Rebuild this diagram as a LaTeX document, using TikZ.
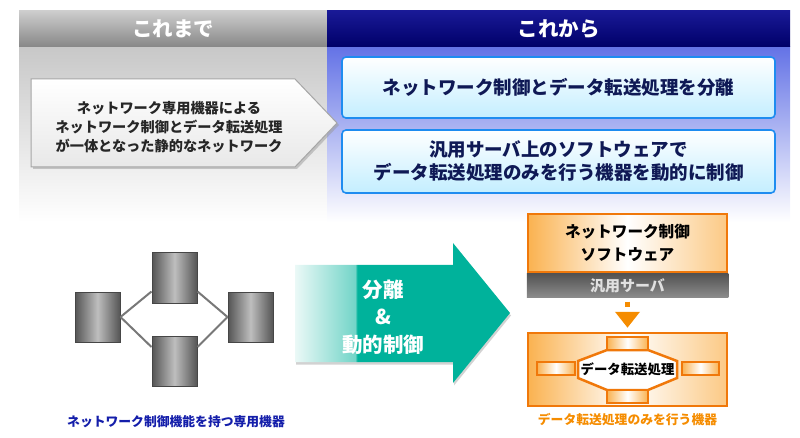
\documentclass[tikz,border=0pt]{standalone}
\usepackage{fontspec}
\setmainfont{Noto Sans CJK JP}
\usetikzlibrary{shadows,arrows.meta,positioning}

\definecolor{headgraytop}{RGB}{205,205,205}
\definecolor{headgraybot}{RGB}{135,135,135}
\definecolor{headbluetop}{RGB}{25,25,150}
\definecolor{headbluebot}{RGB}{0,0,105}
\definecolor{panelblue}{RGB}{100,115,230}
\definecolor{panelgray}{RGB}{200,200,200}
\definecolor{boxblue}{RGB}{30,140,240}
\definecolor{boxcyan}{RGB}{195,238,255}
\definecolor{boxtext}{RGB}{15,25,85}
\definecolor{unitdark}{RGB}{85,85,85}
\definecolor{unitlight}{RGB}{190,190,190}
\definecolor{unitedge}{RGB}{70,70,70}
\definecolor{linkgray}{RGB}{120,120,120}
\definecolor{arrowteal}{RGB}{0,178,155}
\definecolor{oline}{RGB}{240,120,10}
\definecolor{ofill}{RGB}{250,178,80}
\definecolor{labelblue}{RGB}{20,30,170}
\definecolor{labelorange}{RGB}{245,140,0}

\pgfdeclarehorizontalshading{arrowfade}{100bp}{color(0bp)=(white); color(25bp)=(white!92!arrowteal); color(39bp)=(arrowteal!55); color(39.5bp)=(arrowteal); color(100bp)=(arrowteal)}

\begin{document}
\begin{tikzpicture}
[
	x=1pt, y=-1pt,
	header/.style={minimum height=36pt, inner sep=0pt, text=white, font=\bfseries\fontsize{20.5}{24}\selectfont},
	infobox/.style={draw=boxblue, line width=1.6pt, rounded corners=4pt, top color=white, bottom color=boxcyan, minimum width=433pt, align=center, text=boxtext, font=\bfseries\fontsize{18.5}{23}\selectfont},
	unit/.style={draw=unitedge, line width=1pt, left color=unitdark, right color=unitdark, middle color=unitlight, minimum width=45pt, minimum height=50pt, inner sep=0pt},
	link/.style={draw=linkgray, line width=2pt},
	orangebox/.style={draw=oline, line width=2.5pt, left color=ofill, right color=ofill!70, middle color=white, minimum width=199pt, align=center, font=\bfseries\fontsize{15.6}{23}\selectfont},
	port/.style={draw=oline, line width=2pt, left color=ofill, right color=ofill, middle color=white, minimum height=13pt, inner sep=0pt},
	caption/.style={font=\bfseries\fontsize{12.8}{15}\selectfont}
]

	\useasboundingbox (0,0) rectangle (800,438);

	% panels
	\shade[top color=panelgray, bottom color=white] (19,47) rectangle (327,222);
	\shade[top color=panelblue, bottom color=white] (327,47) rectangle (790,222);

	% headers
	\node[header, minimum width=308pt, top color=headgraytop, bottom color=headgraybot] (before) at (173,29) {これまで};
	\node[header, minimum width=463pt, top color=headbluetop, bottom color=headbluebot] (after) at (558.5,29) {これから};

	% today
	\draw[draw=gray!70, line width=1pt, top color=white, bottom color=gray!18,
		drop shadow={shadow xshift=2pt, shadow yshift=-2pt, fill=black!40}]
		(31,79) -- (295,79) -- (337,123) -- (295,167) -- (31,167) -- cycle;
	\node[align=center, text=black!85, font=\bfseries\fontsize{14.2}{19}\selectfont] (now) at (169,127)
		{ネットワーク専用機器による\\ネットワーク制御とデータ転送処理\\が一体となった静的なネットワーク};

	% future
	\node[infobox, minimum height=61pt] (split) at (558.5,87.5) {ネットワーク制御とデータ転送処理を分離};
	\node[infobox, minimum height=63pt] (ctrl) at (558.5,161.5) {汎用サーバ上のソフトウェアで\\データ転送処理のみを行う機器を動的に制御};

	% dedicated devices
	\node[unit] (ua) at (97.5,317) {};
	\node[unit] (ub) at (174.5,278) {};
	\node[unit] (uc) at (174.5,361.5) {};
	\node[unit] (ud) at (250.5,317) {};
	\draw[link] (ua.east) -- ([yshift=12pt]ub.south west);
	\draw[link] (ua.east) -- ([yshift=-11pt]uc.north west);
	\draw[link] (ud.west) -- ([yshift=12pt]ub.south east);
	\draw[link] (ud.west) -- ([yshift=-11pt]uc.north east);
	\node[caption, text=labelblue] (oldcap) at (176,422) {ネットワーク制御機能を持つ専用機器};

	% big arrow
	\path[shading=arrowfade, drop shadow={shadow xshift=1pt, shadow yshift=-2.5pt, fill=black!35}]
		(295,265) -- (453,265) -- (453,243) -- (510,313) -- (453,383) -- (453,362) -- (295,362) -- cycle;
	\node[align=center, text=white, font=\bfseries\fontsize{20.5}{27.5}\selectfont] (move) at (383,317) {分離\\\&\\動的制御};

	% controller
	\node[orangebox, minimum height=58pt] (soft) at (627.5,243) {ネットワーク制御\\ソフトウェア};
	\node[below=0pt of soft, minimum width=201.5pt, minimum height=24pt, inner sep=0pt,
		top color=black!68, bottom color=black!45, text=black!12,
		font=\bfseries\fontsize{15}{18}\selectfont] (server) {汎用サーバ};

	% forwarding device
	\node[orangebox, minimum height=73pt] (device) at (627.5,369.5) {};
	\draw[oline, line width=2.5pt, fill=white] (607,350) -- (648,350) -- (677,361) -- (677,378) -- (648,390)
		-- (607,390) -- (578,378) -- (578,361) -- cycle;
	\node[font=\bfseries\fontsize{13.4}{16}\selectfont] (xfer) at (627.5,369) {データ転送処理};
	\node[port, minimum width=41pt] (pt) at (627.5,343.5) {};
	\node[port, minimum width=41pt] (pb) at (627.5,396) {};
	\node[port, minimum width=38pt] (pl) at (556,368.5) {};
	\node[port, minimum width=37pt] (pr) at (700.5,368.5) {};
	\node[caption, text=labelorange] (newcap) at (627.5,420) {データ転送処理のみを行う機器};

	% server to device
	\draw[labelorange, line width=5pt, dash pattern=on 5pt off 10pt, dash phase=11pt, shorten >=4pt,
		-{Triangle[width=24pt,length=16pt]}] (server.south) -- (device.north);

\end{tikzpicture}
\end{document}
